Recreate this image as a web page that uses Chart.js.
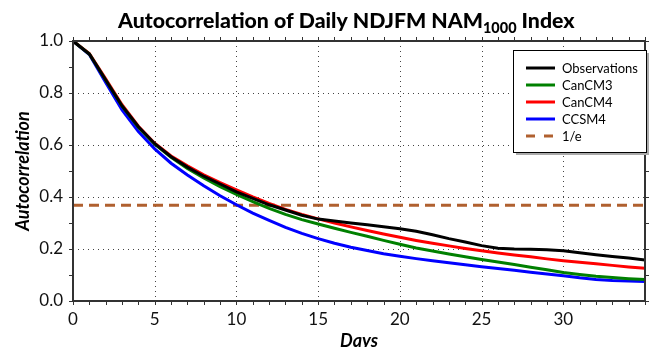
<!DOCTYPE html>
<html>
<head>
<meta charset="utf-8">
<script src="https://cdn.jsdelivr.net/npm/chart.js@4/dist/chart.umd.min.js"></script>
<style>
  html, body { margin: 0; padding: 0; background: #fff; }
  #wrap { width: 653px; height: 347px; }
</style>
</head>
<body>
<div id="wrap"><canvas id="acf" width="653" height="347"></canvas></div>
<script>
// lag in days
const days = [0, 1, 2, 3, 4, 5, 6, 7, 8, 9, 10, 11, 12, 13, 14, 15, 16, 17,
              18, 19, 20, 21, 22, 23, 24, 25, 26, 27, 28, 29, 30, 31, 32, 33, 34, 35];

// autocorrelation
const observations = [1.0, 0.95, 0.85, 0.75, 0.67, 0.605, 0.555, 0.515, 0.48, 0.45, 0.42, 0.395,
                      0.37, 0.35, 0.33, 0.315, 0.308, 0.30, 0.293, 0.286, 0.278, 0.268, 0.255, 0.24,
                      0.227, 0.213, 0.203, 0.20, 0.199, 0.197, 0.193, 0.186, 0.178, 0.171, 0.165, 0.158];
const canCM3 = [1.0, 0.95, 0.85, 0.75, 0.668, 0.603, 0.553, 0.51, 0.473, 0.44, 0.41, 0.382,
                0.356, 0.333, 0.313, 0.296, 0.28, 0.264, 0.249, 0.233, 0.218, 0.204, 0.192, 0.181,
                0.17, 0.16, 0.15, 0.14, 0.13, 0.12, 0.11, 0.102, 0.095, 0.09, 0.086, 0.083];
const canCM4 = [1.0, 0.952, 0.855, 0.755, 0.672, 0.607, 0.558, 0.52, 0.485, 0.455, 0.427, 0.40,
                0.375, 0.352, 0.333, 0.316, 0.30, 0.285, 0.271, 0.258, 0.245, 0.233, 0.222, 0.212,
                0.202, 0.193, 0.185, 0.177, 0.17, 0.162, 0.155, 0.149, 0.143, 0.137, 0.131, 0.126];
const ccsm4 = [1.0, 0.948, 0.84, 0.735, 0.652, 0.585, 0.53, 0.485, 0.443, 0.405, 0.37, 0.338,
               0.31, 0.283, 0.26, 0.24, 0.222, 0.207, 0.194, 0.182, 0.172, 0.163, 0.155, 0.147,
               0.139, 0.132, 0.125, 0.118, 0.111, 0.104, 0.097, 0.089, 0.083, 0.079, 0.077, 0.075];
const eFolding = 0.3679; // 1/e

const xTickLabels = [0, 5, 10, 15, 20, 25, 30];
const yTickLabels = [0.0, 0.2, 0.4, 0.6, 0.8, 1.0];

const toPoints = vals => vals.map((v, i) => ({ x: days[i], y: v }));

// frame, dotted grid and minor ticks on all four sides
const framePlugin = {
  id: 'frame',
  beforeDatasetsDraw(chart) {
    const { ctx, chartArea: a, scales: { x, y } } = chart;
    ctx.save();
    ctx.strokeStyle = '#444';
    ctx.lineWidth = 1;
    ctx.setLineDash([1, 4]);
    xTickLabels.forEach(v => {
      if (v <= 0) return;
      const px = Math.round(x.getPixelForValue(v)) + 0.5;
      ctx.beginPath(); ctx.moveTo(px, a.top); ctx.lineTo(px, a.bottom); ctx.stroke();
    });
    yTickLabels.forEach(v => {
      if (v <= 0 || v >= 1) return;
      const py = Math.round(y.getPixelForValue(v)) + 0.5;
      ctx.beginPath(); ctx.moveTo(a.left, py); ctx.lineTo(a.right, py); ctx.stroke();
    });
    ctx.setLineDash([]);
    ctx.strokeStyle = '#333';
    for (let d = 0; d <= 35; d++) {
      const px = Math.round(x.getPixelForValue(d)) + 0.5;
      ctx.beginPath();
      ctx.moveTo(px, a.bottom); ctx.lineTo(px, a.bottom + 4);
      ctx.moveTo(px, a.top); ctx.lineTo(px, a.top - 4);
      ctx.stroke();
    }
    for (let k = 0; k <= 10; k++) {
      const py = Math.round(y.getPixelForValue(k / 10)) + 0.5;
      ctx.beginPath();
      ctx.moveTo(a.left, py); ctx.lineTo(a.left - 4, py);
      ctx.moveTo(a.right, py); ctx.lineTo(a.right + 4, py);
      ctx.stroke();
    }
    ctx.restore();
  },
  afterDatasetsDraw(chart) {
    const { ctx, chartArea: a } = chart;
    ctx.save();
    ctx.strokeStyle = '#333';
    ctx.lineWidth = 2;
    ctx.strokeRect(a.left, a.top, a.right - a.left, a.bottom - a.top);
    ctx.restore();
  }
};

// title with subscript, axis titles and the boxed legend
const textPlugin = {
  id: 'texts',
  afterDraw(chart) {
    const { ctx, chartArea: a } = chart;
    ctx.save();
    ctx.fillStyle = '#000';
    ctx.textBaseline = 'alphabetic';

    // title
    const parts = [['Autocorrelation of Daily NDJFM NAM', 1, 0], ['1000', 0.68, 5], [' Index', 1, 0]];
    let size = 22;
    const widthAt = s => parts.reduce((w, p) => {
      ctx.font = `900 ${s * p[1]}px Lato`;
      return w + ctx.measureText(p[0]).width;
    }, 0);
    size = size * 457 / widthAt(size);
    let tx = 118;
    parts.forEach(p => {
      ctx.font = `900 ${size * p[1]}px Lato`;
      ctx.fillText(p[0], tx, 28 + p[2]);
      tx += ctx.measureText(p[0]).width;
    });

    // axis titles
    ctx.font = 'italic bold 18px Lato';
    ctx.textAlign = 'center';
    ctx.fillText('Days', (a.left + a.right) / 2, 347);
    ctx.translate(23, (a.top + a.bottom) / 2);
    ctx.rotate(-Math.PI / 2);
    ctx.textBaseline = 'middle';
    ctx.fillText('Autocorrelation', 0, 0);
    ctx.setTransform(1, 0, 0, 1, 0, 0);

    // legend
    const bx = 513, by = 50, bw = 133, bh = 102;
    ctx.fillStyle = '#aaa';
    ctx.fillRect(bx + 3, by + 3, bw, bh);
    ctx.fillStyle = '#fff';
    ctx.fillRect(bx, by, bw, bh);
    ctx.strokeStyle = '#000';
    ctx.lineWidth = 1;
    ctx.strokeRect(bx + 0.5, by + 0.5, bw, bh);
    ctx.font = '13px Lato';
    ctx.textAlign = 'left';
    ctx.textBaseline = 'middle';
    chart.data.datasets.forEach((ds, i) => {
      const ry = 68 + i * 17;
      ctx.strokeStyle = ds.borderColor;
      ctx.lineWidth = 3;
      ctx.setLineDash(ds.borderDash && ds.borderDash.length ? [9, 9] : []);
      ctx.beginPath(); ctx.moveTo(526, ry); ctx.lineTo(555, ry); ctx.stroke();
      ctx.setLineDash([]);
      ctx.fillStyle = '#000';
      ctx.fillText(ds.label, 562, ry + 1);
    });
    ctx.restore();
  }
};

new Chart(document.getElementById('acf'), {
  type: 'line',
  data: {
    datasets: [
      { label: 'Observations', data: toPoints(observations), borderColor: '#000000' },
      { label: 'CanCM3', data: toPoints(canCM3), borderColor: '#008000' },
      { label: 'CanCM4', data: toPoints(canCM4), borderColor: '#ff0000' },
      { label: 'CCSM4', data: toPoints(ccsm4), borderColor: '#0000ff' },
      { label: '1/e', data: [{ x: days[0], y: eFolding }, { x: days[days.length - 1], y: eFolding }],
        borderColor: '#b0602f', borderDash: [10, 6] }
    ]
  },
  options: {
    responsive: false,
    animation: false,
    devicePixelRatio: 1,
    layout: { padding: { top: 41, right: 3, left: 0, bottom: 0 } },
    elements: {
      line: { borderWidth: 3, tension: 0, fill: false },
      point: { radius: 0 }
    },
    plugins: { legend: { display: false }, title: { display: false }, tooltip: { enabled: false } },
    scales: {
      x: {
        type: 'linear', min: 0, max: 35,
        afterFit: s => { s.height = 46; },
        grid: { display: false, drawTicks: false },
        border: { display: false },
        ticks: {
          stepSize: 5, padding: 8, color: '#111',
          font: { family: 'Lato', size: 17 },
          callback: v => xTickLabels.includes(v) ? String(v) : ''
        }
      },
      y: {
        min: 0, max: 1,
        afterFit: s => { s.width = 73; },
        grid: { display: false, drawTicks: false },
        border: { display: false },
        ticks: {
          stepSize: 0.2, padding: 10, color: '#111',
          font: { family: 'Lato', size: 17 },
          callback: v => yTickLabels.some(t => Math.abs(t - v) < 1e-9) ? v.toFixed(1) : ''
        }
      }
    }
  },
  plugins: [framePlugin, textPlugin]
});
</script>
</body>
</html>
